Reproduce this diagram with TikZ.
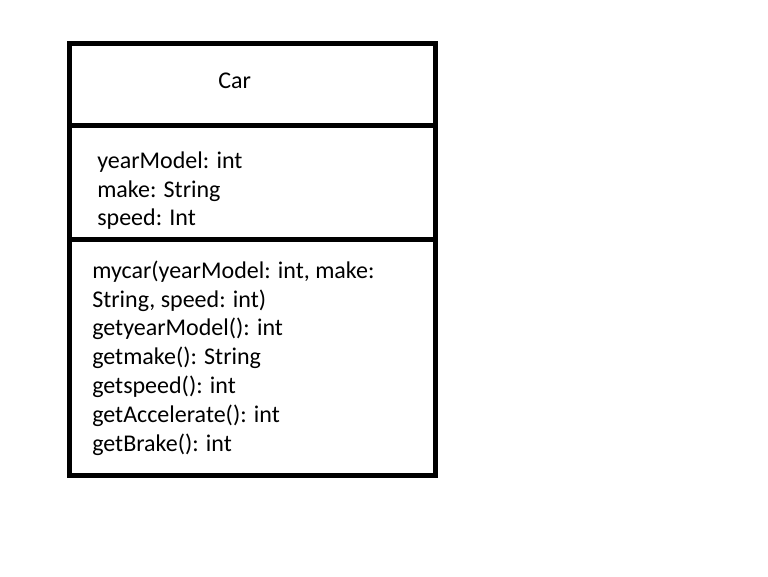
\documentclass[tikz,border=0pt]{standalone}
\usepackage{fontspec}
\setmainfont{Carlito}
\begin{document}
\begin{tikzpicture}[
    x=0.75pt, y=-0.75pt,
    caja/.style={line width=3.75pt, draw=black},
    texto/.style={anchor=base west, inner sep=0pt, font=\fontsize{18}{21.6}\selectfont}
]
    \useasboundingbox (0,0) rectangle (768,576);

    % --- MARCO DE LA CLASE ---
    \coordinate (NO) at (69.5, 43.5);
    \coordinate (SE) at (435, 475.5);
    \draw[caja] (NO) rectangle (SE);
    \draw[caja] (69.5, 125.5) -- (435, 125.5);
    \draw[caja] (69.5, 239) -- (435, 239);

    % --- NOMBRE ---
    \node[texto] (nombre) at (218, 88.3) {Car};

    % --- ATRIBUTOS ---
    \foreach \t [count=\i] in {yearModel: int, make: String, speed: Int}
        \node[texto] (at\i) at (97, 168.3 + 28.8*\i - 28.8) {\t};

    % --- METODOS ---
    \foreach \t [count=\i] in {{mycar(yearModel: int, make:}, {String, speed: int)},
        getyearModel(): int, getmake(): String, getspeed(): int,
        getAccelerate(): int, getBrake(): int}
        \node[texto] (met\i) at (92, 278.3 + 28.8*\i - 28.8) {\t};
\end{tikzpicture}
\end{document}
